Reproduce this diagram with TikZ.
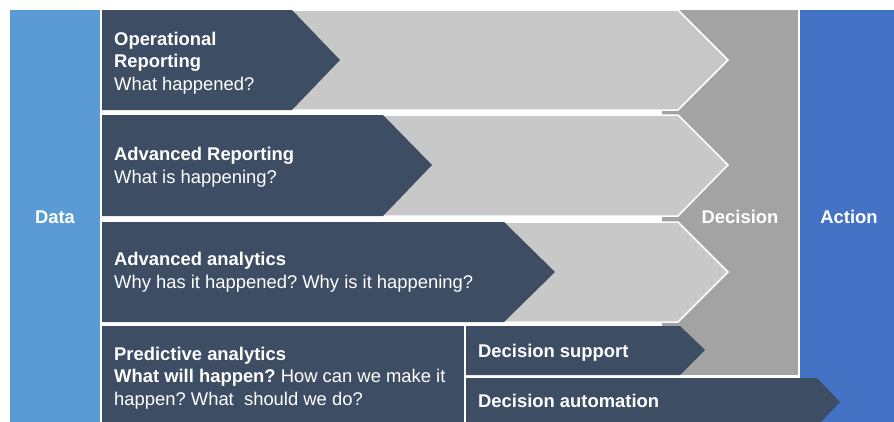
\documentclass[tikz,border=0pt]{standalone}
\usepackage{fontspec}
\setmainfont{Liberation Sans}
\frenchspacing
\definecolor{datablue}{HTML}{5B9BD5}
\definecolor{actionblue}{HTML}{4472C4}
\definecolor{navy}{HTML}{3D4D64}
\definecolor{lightgray}{HTML}{C8C8C8}
\definecolor{midgray}{HTML}{A3A3A3}
\begin{document}
\begin{tikzpicture}[
    x=1pt, y=-1pt,
    column/.style={fill=#1, draw=none},
    backarrow/.style={fill=lightgray, draw=white, line width=1.5pt, line join=miter},
    frontarrow/.style={fill=navy, draw=none},
    txt/.style={text=white, inner sep=0pt, anchor=base west, align=left,
      font=\fontsize{18.4}{22.5}\selectfont},
    head/.style={txt, anchor=base, font=\fontsize{18.4}{22.5}\selectfont\bfseries}
  ]
    \useasboundingbox (0,0) rectangle (894,421);
    \clip (0,0) rectangle (894,421);

    % columns
    \fill [column=datablue] (10,10) rectangle (100,430);
    \fill [column=actionblue] (800,10) rectangle (894,430);
    \fill [column=midgray] (662,10) rectangle (798,375);

    % grey arrows behind
    \path [backarrow] (102,10) -- (678,10) -- (728,60) -- (678,110) -- (102,110) -- cycle;
    \path [backarrow] (102,115) -- (678,115) -- (728,165) -- (678,216) -- (102,216) -- cycle;
    \path [backarrow] (102,222) -- (678,222) -- (728,272) -- (678,322) -- (102,322) -- cycle;

    % dark arrows
    \path [frontarrow] (102,10) -- (292,10) -- (340,60) -- (292,110) -- (102,110) -- cycle;
    \path [frontarrow] (102,115) -- (383,115) -- (432,165) -- (383,216) -- (102,216) -- cycle;
    \path [frontarrow] (102,222) -- (504,222) -- (555,272) -- (504,322) -- (102,322) -- cycle;
    \path [frontarrow] (102,326) rectangle (464,430);
    \path [frontarrow] (466,326) -- (680,326) -- (705,350) -- (680,375) -- (466,375) -- cycle;
    \path [frontarrow] (466,378) -- (817,378) -- (840,402) -- (817,426) -- (466,426) -- cycle;

    % labels (base = last line)
    \node [head] (data) at (55,223) {Data};
    \node [head] (decision) at (740,223) {Decision};
    \node [head] (action) at (849,223) {Action};

    \node [txt] (oprep) at (114,90) {\textbf{Operational}\\\textbf{Reporting}\\What happened?};
    \node [txt] (advrep) at (114,183) {\textbf{Advanced Reporting}\\What is happening?};
    \node [txt] (advana) at (114,288) {\textbf{Advanced analytics}\\Why has it happened? Why is it happening?};
    \node [txt] (predana) at (114,405) {\textbf{Predictive analytics}\\\textbf{What will happen?} How can we make it\\happen? What\ \ should we do?};
    \node [txt] (decsup) at (478,357) {\textbf{Decision support}};
    \node [txt] (decaut) at (478,407) {\textbf{Decision automation}};
  \end{tikzpicture}
\end{document}
